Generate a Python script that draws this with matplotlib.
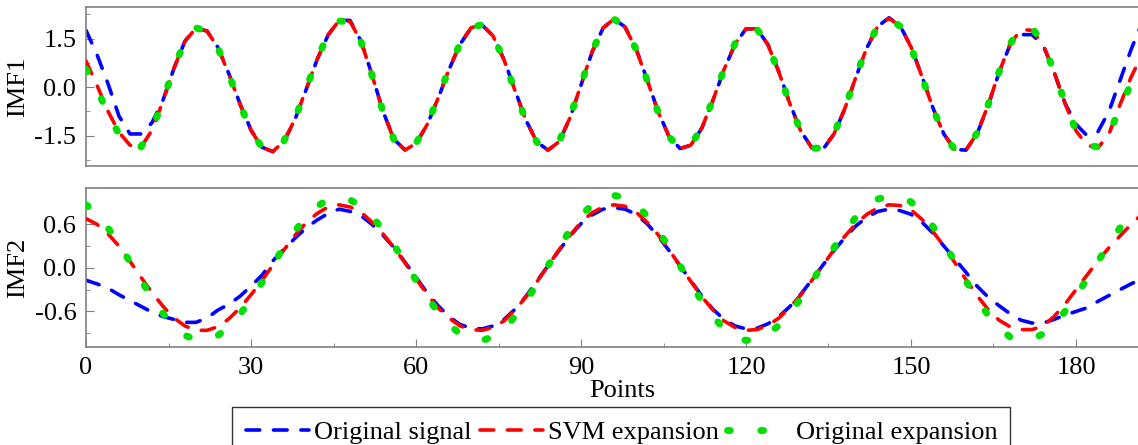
import numpy as np
import matplotlib
matplotlib.use('Agg')
import matplotlib.pyplot as plt
from matplotlib.ticker import MultipleLocator, FormatStrFormatter

plt.rcParams['font.family'] = ['Liberation Serif', 'DejaVu Serif']

# eje x: puntos cada 2 muestras
puntos = list(range(0, 193, 2))

# IMF1 - senal original
imf1_original = [1.75, 1.00, 0.10, -0.90, -1.45, -1.45, -1.10, -0.40, 0.58, 1.42,
                 1.82, 1.73, 1.22, 0.40, -0.52, -1.33, -1.86, -2.00, -1.68, -1.00,
                 -0.09, 0.84, 1.60, 2.06, 2.06, 1.42, 0.38, -0.75, -1.62, -1.94,
                 -1.75, -1.18, -0.36, 0.54, 1.32, 1.82, 1.92, 1.58, 0.85, -0.10,
                 -1.03, -1.70, -1.95, -1.70, -0.96, 0.06, 1.07, 1.82, 2.10, 1.86,
                 1.19, 0.24, -0.75, -1.52, -1.90, -1.80, -1.26, -0.41, 0.53, 1.32,
                 1.80, 1.80, 1.31, 0.46, -0.52, -1.37, -1.88, -1.92, -1.46, -0.66,
                 0.31, 1.22, 1.88, 2.14, 1.90, 1.25, 0.33, -0.65, -1.46, -1.93,
                 -1.95, -1.45, -0.58, 0.44, 1.30, 1.62, 1.62, 1.30, 0.47, -0.50,
                 -1.15, -1.50, -1.38, -0.75, 0.20, 1.15, 2.00]
# IMF1 - expansion SVM
imf1_svm = [0.80, 0.05, -0.75, -1.40, -1.80, -1.86, -1.33, -0.43, 0.59, 1.42,
            1.82, 1.73, 1.21, 0.39, -0.53, -1.34, -1.87, -1.99, -1.67, -0.99,
            -0.08, 0.85, 1.61, 2.05, 2.03, 1.41, 0.37, -0.76, -1.63, -1.95,
            -1.74, -1.17, -0.35, 0.55, 1.33, 1.83, 1.93, 1.58, 0.84, -0.11,
            -1.04, -1.71, -1.95, -1.69, -0.95, 0.07, 1.08, 1.83, 2.10, 1.85,
            1.18, 0.23, -0.76, -1.53, -1.90, -1.79, -1.25, -0.40, 0.54, 1.33,
            1.80, 1.80, 1.30, 0.45, -0.53, -1.38, -1.89, -1.90, -1.45, -0.65,
            0.32, 1.23, 1.89, 2.12, 1.89, 1.24, 0.32, -0.66, -1.47, -1.94,
            -1.94, -1.44, -0.57, 0.45, 1.32, 1.78, 1.75, 1.32, 0.48, -0.50,
            -1.35, -1.80, -1.88, -1.45, -0.55, 0.30, 1.00]
# IMF1 - expansion original
imf1_expansion = [0.55, -0.05, -0.85, -1.45, -1.82, -1.85, -1.32, -0.42, 0.60, 1.43,
                  1.83, 1.72, 1.20, 0.38, -0.54, -1.35, -1.87, -1.99, -1.66, -0.98,
                  -0.07, 0.86, 1.62, 2.04, 2.02, 1.40, 0.36, -0.77, -1.63, -1.95,
                  -1.74, -1.16, -0.34, 0.56, 1.34, 1.83, 1.93, 1.58, 0.83, -0.12,
                  -1.05, -1.71, -1.95, -1.68, -0.94, 0.08, 1.09, 1.83, 2.10, 1.85,
                  1.17, 0.22, -0.77, -1.54, -1.90, -1.79, -1.24, -0.39, 0.55, 1.34,
                  1.79, 1.79, 1.29, 0.44, -0.54, -1.39, -1.89, -1.89, -1.44, -0.64,
                  0.33, 1.24, 1.89, 2.12, 1.88, 1.23, 0.31, -0.67, -1.48, -1.94,
                  -1.93, -1.43, -0.56, 0.46, 1.33, 1.83, 1.84, 1.34, 0.49, -0.49,
                  -1.34, -1.80, -1.85, -1.45, -0.65, 0.10, 0.90]

# IMF2 - senal original
imf2_original = [-0.17, -0.22, -0.28, -0.37, -0.45, -0.53, -0.61, -0.67, -0.71, -0.75,
                 -0.75, -0.69, -0.58, -0.50, -0.39, -0.25, -0.10, 0.10, 0.26, 0.41,
                 0.55, 0.66, 0.75, 0.81, 0.78, 0.72, 0.60, 0.45, 0.28, 0.08,
                 -0.13, -0.34, -0.52, -0.67, -0.78, -0.83, -0.84, -0.80, -0.71, -0.57,
                 -0.39, -0.18, 0.03, 0.24, 0.44, 0.61, 0.73, 0.81, 0.83, 0.81,
                 0.74, 0.61, 0.44, 0.24, 0.03, -0.18, -0.39, -0.57, -0.71, -0.80,
                 -0.84, -0.83, -0.77, -0.67, -0.53, -0.36, -0.16, 0.04, 0.24, 0.42,
                 0.58, 0.70, 0.78, 0.81, 0.79, 0.74, 0.63, 0.48, 0.30, 0.12,
                 -0.06, -0.25, -0.40, -0.52, -0.63, -0.72, -0.76, -0.76, -0.71, -0.65,
                 -0.60, -0.55, -0.46, -0.38, -0.30, -0.22, -0.15]
# IMF2 - expansion SVM
imf2_svm = [0.68, 0.60, 0.47, 0.30, 0.09, -0.13, -0.34, -0.53, -0.69, -0.80,
            -0.86, -0.86, -0.81, -0.70, -0.55, -0.37, -0.17, 0.04, 0.25, 0.45,
            0.62, 0.75, 0.84, 0.87, 0.84, 0.77, 0.63, 0.47, 0.28, 0.07,
            -0.15, -0.36, -0.55, -0.69, -0.80, -0.85, -0.86, -0.82, -0.73, -0.58,
            -0.40, -0.19, 0.03, 0.25, 0.45, 0.63, 0.76, 0.84, 0.87, 0.85,
            0.77, 0.63, 0.46, 0.25, 0.03, -0.19, -0.40, -0.58, -0.73, -0.82,
            -0.86, -0.85, -0.79, -0.69, -0.54, -0.37, -0.17, 0.04, 0.25, 0.44,
            0.61, 0.74, 0.83, 0.87, 0.86, 0.80, 0.67, 0.50, 0.30, 0.07,
            -0.16, -0.38, -0.57, -0.72, -0.81, -0.85, -0.85, -0.80, -0.67, -0.50,
            -0.30, -0.10, 0.10, 0.28, 0.44, 0.60, 0.74]
# IMF2 - expansion original
imf2_expansion = [0.87, 0.74, 0.55, 0.33, 0.08, -0.17, -0.41, -0.63, -0.80, -0.93,
                  -0.99, -0.99, -0.93, -0.81, -0.64, -0.43, -0.20, 0.05, 0.29, 0.51,
                  0.70, 0.85, 0.94, 0.97, 0.94, 0.85, 0.71, 0.53, 0.31, 0.08,
                  -0.17, -0.40, -0.61, -0.78, -0.91, -0.98, -1.00, -0.95, -0.84, -0.67,
                  -0.46, -0.22, 0.03, 0.28, 0.52, 0.72, 0.87, 0.97, 1.00, 0.97,
                  0.87, 0.72, 0.52, 0.28, 0.03, -0.22, -0.46, -0.67, -0.84, -0.95,
                  -1.00, -0.98, -0.91, -0.79, -0.62, -0.42, -0.19, 0.05, 0.28, 0.50,
                  0.70, 0.85, 0.95, 0.99, 0.98, 0.91, 0.76, 0.57, 0.34, 0.08,
                  -0.18, -0.43, -0.65, -0.83, -0.95, -1.00, -0.98, -0.91, -0.78, -0.60,
                  -0.39, -0.15, 0.09, 0.33, 0.55, 0.74, 0.88]

nombres = ['Original signal', 'SVM expansion', 'Original expansion']

azul = '#0000ff'
rojo = '#ff0000'
verde = '#00e000'
gris = '#808080'

fig = plt.figure(figsize=(11.38, 4.45), dpi=100)
ax1 = fig.add_axes([0.0756, 0.627, 0.9424, 0.357])
ax2 = fig.add_axes([0.0756, 0.2202, 0.9424, 0.357])

def dibujar(ax, original, svm, expansion):
    # tres curvas: original (azul), svm (rojo), expansion original (puntos verdes)
    l1, = ax.plot(puntos, original, color=azul, lw=2.6, dashes=(3.8, 3.8),
                  dash_capstyle='round', zorder=2)
    l2, = ax.plot(puntos, svm, color=rojo, lw=2.6, dashes=(3.8, 3.8),
                  dash_capstyle='round', zorder=3)
    l3, = ax.plot(puntos, expansion, color=verde, lw=5, dashes=(0.4, 4.4),
                  dash_capstyle='round', zorder=4)
    return l1, l2, l3

lineas = dibujar(ax1, imf1_original, imf1_svm, imf1_expansion)
dibujar(ax2, imf2_original, imf2_svm, imf2_expansion)

for ax in (ax1, ax2):
    ax.set_xlim(0, 195)
    for s in ax.spines.values():
        s.set_color(gris)
        s.set_linewidth(1.2)
    ax.tick_params(axis='both', which='both', direction='in', color=gris,
                   labelsize=19, pad=7)
    ax.tick_params(axis='y', which='major', length=5.5)
    ax.tick_params(axis='y', which='minor', length=3)

# eje superior
ax1.set_ylim(-2.44, 2.47)
ax1.yaxis.set_major_locator(MultipleLocator(1.5))
ax1.yaxis.set_minor_locator(MultipleLocator(0.75))
ax1.yaxis.set_major_formatter(FormatStrFormatter('%.1f'))
ax1.tick_params(axis='x', which='both', bottom=False, labelbottom=False)
ax1.set_ylabel('IMF1', fontsize=19, labelpad=4)

# eje inferior
ax2.set_ylim(-1.09, 1.10)
ax2.yaxis.set_major_locator(MultipleLocator(0.6))
ax2.yaxis.set_minor_locator(MultipleLocator(0.3))
ax2.yaxis.set_major_formatter(FormatStrFormatter('%.1f'))
ax2.xaxis.set_major_locator(MultipleLocator(30))
ax2.xaxis.set_minor_locator(MultipleLocator(15))
ax2.tick_params(axis='x', which='major', length=5.5)
ax2.tick_params(axis='x', which='minor', length=3)
ax2.set_ylabel('IMF2', fontsize=19, labelpad=4)
ax2.set_xlabel('Points', fontsize=19, labelpad=1)

leg = fig.legend(lineas, nombres, loc='upper center', bbox_to_anchor=(0.546, 0.085),
                 ncol=3, fontsize=19, frameon=True, fancybox=False,
                 handlelength=2.4, handletextpad=0.2, columnspacing=0.3,
                 borderpad=0.5, borderaxespad=0)
leg.get_frame().set_edgecolor('black')
leg.get_frame().set_linewidth(1.0)

fig.savefig('out.png', dpi=100)
